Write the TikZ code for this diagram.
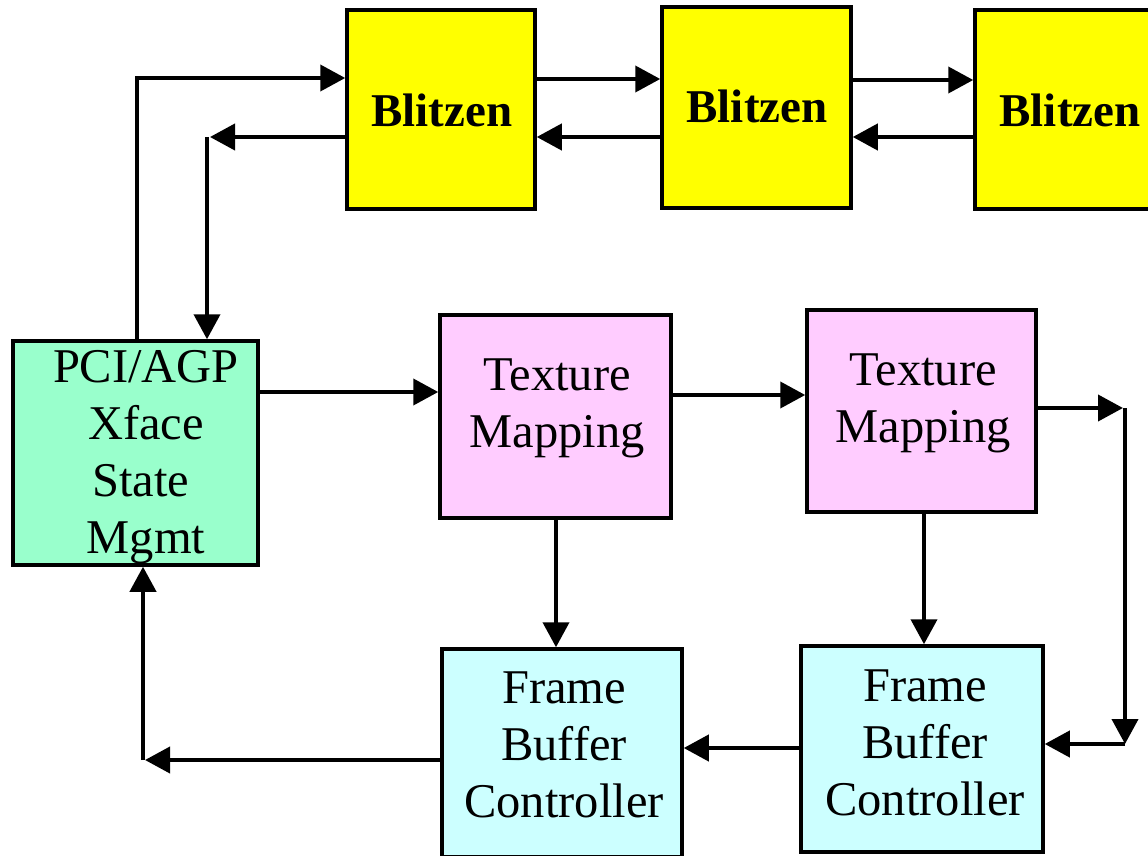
\documentclass[tikz,border=0pt]{standalone}
\usepackage{fontspec}
\setmainfont{Liberation Serif}
\usetikzlibrary{arrows.meta}
\definecolor{yel}{HTML}{FFFF00}
\definecolor{grn}{HTML}{99FFCC}
\definecolor{pnk}{HTML}{FFCCFF}
\definecolor{cyn}{HTML}{CCFFFF}
\tikzset{
  box/.style={draw=black, line width=3.5pt, rectangle, inner sep=0pt, line join=miter},
  lbl/.style={align=center, inner sep=0pt, font=\fontsize{48.5}{57}\selectfont},
  blbl/.style={inner sep=0pt, anchor=base, font=\fontsize{47}{55}\selectfont\bfseries},
  arr/.style={line width=4pt, -{Triangle[length=25pt,width=26pt]}},
  ln/.style={line width=4pt}
}
\begin{document}
\begin{tikzpicture}[x=1pt,y=-1pt]
\useasboundingbox (0,0) rectangle (1148,856);
\clip (0,0) rectangle (1148,856);
% boxes
\node[box, fill=yel, minimum width=188pt, minimum height=199pt] (b1) at (441,109.5) {};
\node[box, fill=yel, minimum width=189pt, minimum height=201pt] (b2) at (756.5,107.5) {};
\node[box, fill=yel, minimum width=189pt, minimum height=199pt] (b3) at (1069.5,109.5) {};
\node[box, fill=grn, minimum width=245pt, minimum height=224pt] (pci) at (135.5,453) {};
\node[box, fill=pnk, minimum width=231pt, minimum height=203pt] (t1) at (555.5,416.5) {};
\node[box, fill=pnk, minimum width=229pt, minimum height=202pt] (t2) at (921.5,411) {};
\node[box, fill=cyn, minimum width=240pt, minimum height=208pt] (f1) at (562,753) {};
\node[box, fill=cyn, minimum width=242pt, minimum height=206pt] (f2) at (922,749) {};
% labels
\node[blbl] (lb1) at (442,127) {Blitzen};
\node[blbl] (lb2) at (757,123) {Blitzen};
\node[blbl] (lb3) at (1070,127) {Blitzen};
\node[lbl] (lpci) at (146,457.5) {PCI/AGP\\Xface\\State\kern10pt\relax\\Mgmt};
\node[lbl] (lt1) at (557,408.5) {Texture\\Mapping};
\node[lbl] (lt2) at (923,403.5) {Texture\\Mapping};
\node[lbl] (lf1) at (564,744.5) {Frame\\Buffer\\Controller};
\node[lbl] (lf2) at (925,742.5) {Frame\\Buffer\\Controller};
% helper coordinates
\coordinate (c1) at (137,78);
\coordinate (c2a) at (210,137);
\coordinate (c2b) at (207,137);
\coordinate (ya) at (0,79);
\coordinate (yb) at (0,137);
\coordinate (yc) at (0,80);
\coordinate (y392) at (0,392);
\coordinate (y395) at (0,395);
\coordinate (r1) at (1123,408);
\coordinate (r2) at (1125,408);
\coordinate (r3) at (1125,744);
\coordinate (xa) at (556,0);
\coordinate (xb) at (924,0);
\coordinate (y748) at (0,748);
\coordinate (l1) at (145,760);
\coordinate (l2) at (143,760);
% connectors
\draw[arr] (pci.north -| c1) |- (b1.west |- c1);
\draw[arr] (b1.west |- c2a) -- (c2a);
\draw[arr] (c2b) -- (pci.north -| c2b);
\draw[arr] (b1.east |- ya) -- (b2.west |- ya);
\draw[arr] (b2.west |- yb) -- (b1.east |- yb);
\draw[arr] (b2.east |- yc) -- (b3.west |- yc);
\draw[arr] (b3.west |- yb) -- (b2.east |- yb);
\draw[arr] (pci.east |- y392) -- (t1.west |- y392);
\draw[arr] (t1.east |- y395) -- (t2.west |- y395);
\draw[arr] (t2.east |- r1) -- (r1);
\draw[arr] (r2) -- (r3);
\draw[arr] (r3) -- (f2.east |- r3);
\draw[arr] (t1.south -| xa) -- (f1.north -| xa);
\draw[arr] (t2.south -| xb) -- (f2.north -| xb);
\draw[arr] (f2.west |- y748) -- (f1.east |- y748);
\draw[arr] (f1.west |- l1) -- (l1);
\draw[arr] (l2) -- (pci.south -| l2);
\end{tikzpicture}
\end{document}
